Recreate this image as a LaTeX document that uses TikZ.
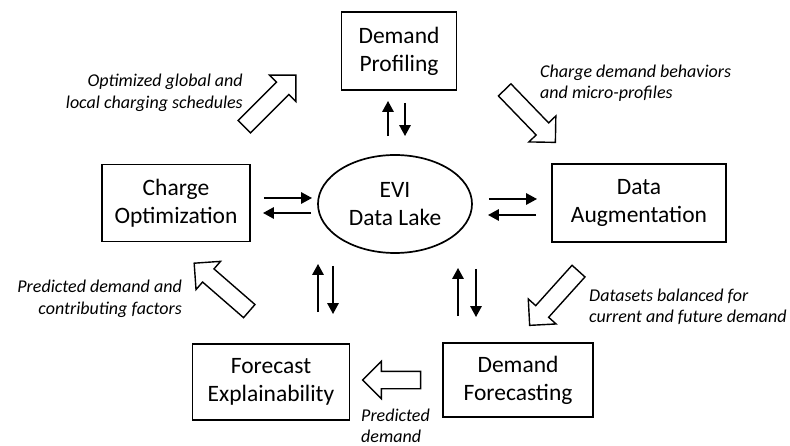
\documentclass[tikz,border=0pt]{standalone}
\usepackage{fontspec}
\setmainfont{Carlito}
\usepackage{tikz}
\usetikzlibrary{arrows.meta,positioning}
\usetikzlibrary{shapes.geometric,shapes.arrows}
\tikzset{blk/.style={draw, line width=1.7pt, align=center, inner sep=0pt,
  font=\fontsize{23.5}{28}\selectfont}}
\tikzset{dl/.style={ellipse, draw, line width=1.7pt, align=center, inner sep=0pt,
  minimum width=154pt, minimum height=98pt, font=\fontsize{23.5}{28}\selectfont}}
\tikzset{sa/.style={draw, line width=2.6pt, -{Triangle[length=11pt,width=11pt]}}}
\tikzset{fat/.style={single arrow, draw, line width=1.4pt, fill=white,
  inner xsep=0pt, inner ysep=8pt, minimum height=73pt,
  single arrow head extend=10pt, single arrow tip angle=90}}
\tikzset{note/.style={align=left, inner sep=0pt,
  font=\fontsize{18}{21.5}\selectfont\itshape}}

\begin{document}
\begin{tikzpicture}[x=1pt, y=1pt]
  \useasboundingbox (0,0) rectangle (790,-446);
  %%
  \node (prof) at (399,-51) [blk, minimum width=115pt, minimum height=78pt] {Demand\\Profiling};
  \node (lake) at (395,-204) [dl] {EVI\\Data Lake};
  \node (opt) at (176,-203) [blk, minimum width=148pt, minimum height=77pt] {Charge\\Optimization};
  \node (aug) at (639,-203) [blk, minimum width=174pt, minimum height=78pt] {Data\\Augmentation};
  \node (expl) at (271,-382) [blk, minimum width=157pt, minimum height=76pt] {Forecast\\Explainability};
  \node (fcst) at (518,-380) [blk, minimum width=150pt, minimum height=74pt] {Demand\\Forecasting};
  %%
  \draw [sa, shorten <=18pt, shorten >=10pt] ([xshift=-7pt]lake.north) to ([xshift=-7pt]lake.north |- prof.south);
  \draw [sa, shorten <=12pt, shorten >=18pt] ([xshift=10pt]lake.north |- prof.south) to ([xshift=10pt]lake.north);
  %%
  \draw [sa, shorten <=13pt, shorten >=5pt] ([yshift=5pt]opt.east) to ([yshift=5pt]opt.east -| lake.west);
  \draw [sa, shorten <=6pt, shorten >=12pt] ([yshift=-10pt]opt.east -| lake.west) to ([yshift=-10pt]opt.east);
  %%
  \draw [sa, shorten <=16pt, shorten >=14pt] ([yshift=4pt]aug.west -| lake.east) to ([yshift=4pt]aug.west);
  \draw [sa, shorten <=15pt, shorten >=15pt] ([yshift=-12pt]aug.west) to ([yshift=-12pt]aug.west -| lake.east);
  %%
  \draw [sa, shorten <=31pt, shorten >=10pt] ([xshift=-77pt]lake.south |- expl.north) to ([xshift=-77pt]lake.south);
  \draw [sa, shorten <=12pt, shorten >=29pt] ([xshift=-62pt]lake.south) to ([xshift=-62pt]lake.south |- expl.north);
  %%
  \draw [sa, shorten <=26pt, shorten >=14pt] ([xshift=63pt]lake.south |- fcst.north) to ([xshift=63pt]lake.south);
  \draw [sa, shorten <=15pt, shorten >=25pt] ([xshift=81pt]lake.south) to ([xshift=81pt]lake.south |- fcst.north);
  %%
  \node (toopt) at (267,-104) [fat, rotate=45] {};
  \node (toprof) at (527,-113) [fat, rotate=-46] {};
  \node (toaug) at (557,-295) [fat, rotate=228] {};
  \node (tofcst) at (225,-290) [fat, rotate=139] {};
  \node (toexpl) at (396,-380) [fat, rotate=180, minimum height=58pt] {};
  %%
  \node (n1) at (243,-93) [note, anchor=east, align=right] {Optimized global and\\local charging schedules};
  \node (n2) at (540,-83) [note, anchor=west] {Charge demand behaviors\\and micro-profiles};
  \node (n3) at (182,-299) [note, anchor=east, align=right] {Predicted demand and\\contributing factors};
  \node (n4) at (589,-307) [note, anchor=west] {Datasets balanced for\\current and future demand};
  \node (n5) at (361,-426) [note, anchor=west] {Predicted\\demand};
\end{tikzpicture}
\end{document}
